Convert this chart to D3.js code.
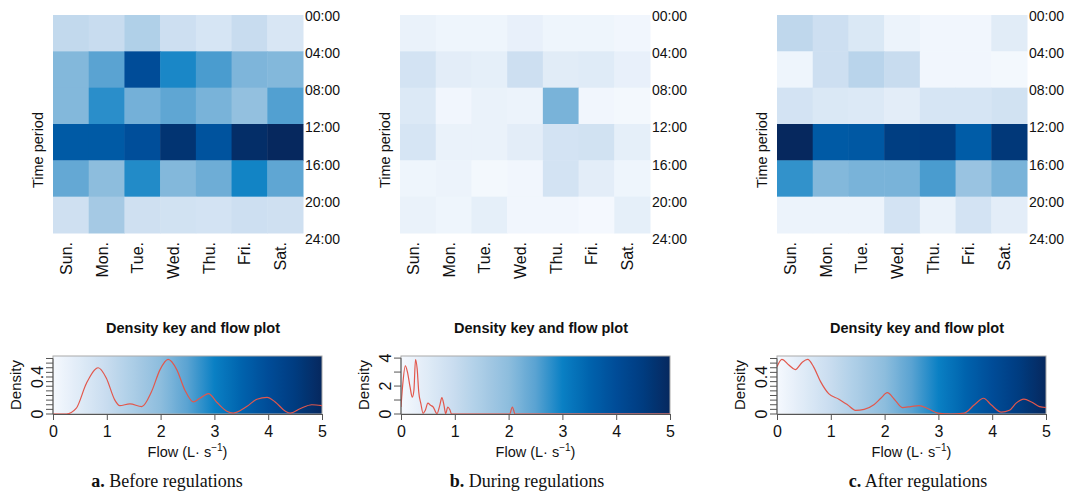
<!DOCTYPE html>
<html>
<head>
<meta charset="utf-8">
<script src="https://cdn.jsdelivr.net/npm/d3@7"></script>
<style>
  body { margin: 0; background: #fff; }
  text { font-family: "Liberation Sans", Arial, sans-serif; fill: #111; }
  .cap { font-family: "Liberation Serif", "Times New Roman", serif; }
</style>
</head>
<body>
<div id="app"></div>
<script>
// ---- data ----
const days = ['Sun.', 'Mon.', 'Tue.', 'Wed.', 'Thu.', 'Fri.', 'Sat.'];
const times = ['00:00', '04:00', '08:00', '12:00', '16:00', '20:00', '24:00'];
const flowTicks = [0, 1, 2, 3, 4, 5];

// mean flow per 4-hour block (rows) and weekday (cols), L/s
const heatBefore = [
    [1.1, 1.0, 1.4, 0.9, 0.7, 1.0, 0.65],
    [2.1, 2.5, 4.0, 2.9, 2.6, 2.15, 2.1],
    [2.1, 2.8, 2.25, 2.45, 2.2, 1.9, 2.55],
    [3.7, 3.7, 3.95, 4.7, 3.85, 4.85, 5.0],
    [2.4, 2.0, 2.85, 2.1, 2.3, 2.95, 2.45],
    [0.85, 1.6, 0.85, 0.8, 0.75, 0.9, 0.85]
];
const heatDuring = [
    [0.25, 0.15, 0.15, 0.3, 0.15, 0.15, 0.1],
    [0.75, 0.4, 0.35, 0.9, 0.45, 0.5, 0.3],
    [0.55, 0.1, 0.25, 0.2, 2.2, 0.1, 0.05],
    [0.7, 0.25, 0.25, 0.4, 0.75, 0.8, 0.35],
    [0.15, 0.2, 0.05, 0.1, 0.75, 0.4, 0.15],
    [0.25, 0.15, 0.35, 0.1, 0.1, 0.02, 0.35]
];
const heatAfter = [
    [1.15, 0.9, 0.6, 0.2, 0.1, 0.1, 0.45],
    [0.15, 0.9, 1.25, 1.0, 0.1, 0.1, 0.05],
    [0.75, 0.6, 0.55, 0.4, 0.7, 0.7, 0.8],
    [5.0, 3.7, 3.75, 4.45, 4.5, 3.65, 4.6],
    [2.75, 2.1, 2.2, 2.2, 2.6, 1.8, 2.2],
    [0.2, 0.2, 0.2, 0.75, 0.25, 0.75, 0.4]
];

// density of flow, [flow, density]
const densBefore = [
    [0, 0], [0.25, 0], [0.43, 0.06], [0.62, 0.33], [0.84, 0.5], [0.99, 0.39], [1.15, 0.15],
    [1.24, 0.09], [1.43, 0.11], [1.65, 0.08], [1.83, 0.24], [1.99, 0.48], [2.14, 0.59],
    [2.3, 0.48], [2.45, 0.26], [2.61, 0.13], [2.73, 0.17], [2.89, 0.22], [3.04, 0.13],
    [3.23, 0.03], [3.35, 0.01], [3.6, 0.08], [3.79, 0.16], [3.98, 0.18], [4.13, 0.13],
    [4.32, 0.03], [4.41, 0.01], [4.6, 0.06], [4.81, 0.1], [5, 0.09]
];
const densDuring = [
    [0, 0.5], [0.03, 2.0], [0.08, 3.45], [0.12, 3.0], [0.17, 1.9], [0.21, 1.2], [0.24, 1.7],
    [0.27, 3.9], [0.3, 3.25], [0.33, 1.57], [0.37, 0.73], [0.41, 0.05], [0.45, 0.25],
    [0.5, 0.78], [0.55, 0.62], [0.6, 0.5], [0.65, 0.1], [0.67, 0.03], [0.72, 0.6],
    [0.76, 1.17], [0.8, 0.6], [0.83, 0.03], [0.87, 0.5], [0.91, 0.28], [0.94, 0],
    [2.02, 0], [2.07, 0.5], [2.12, 0], [5, 0]
];
const densAfter = [
    [0, 0.51], [0.09, 0.59], [0.22, 0.53], [0.34, 0.48], [0.47, 0.56], [0.57, 0.59],
    [0.68, 0.51], [0.81, 0.35], [0.96, 0.22], [1.15, 0.16], [1.31, 0.1], [1.46, 0.04],
    [1.62, 0.05], [1.8, 0.1], [1.93, 0.17], [2.05, 0.23], [2.18, 0.16], [2.33, 0.07],
    [2.49, 0.08], [2.64, 0.09], [2.8, 0.06], [2.99, 0.01], [3.23, 0], [3.48, 0.01],
    [3.67, 0.1], [3.84, 0.17], [3.98, 0.1], [4.17, 0.02], [4.32, 0.04], [4.45, 0.12],
    [4.59, 0.16], [4.73, 0.13], [4.88, 0.08], [5, 0.07]
];

// ---- setup ----
const width = 1068, height = 494;
const svg = d3.select('#app').append('svg').attr('width', width).attr('height', height);
const defs = svg.append('defs');

const color = d3.scaleLinear()
    .domain([0, 1, 2, 2.5, 3, 3.5, 4, 4.5, 5])
    .range(['#f5f9fe', '#c8dcef', '#8dbddd', '#5aa3d2', '#0a80c4', '#0063ad', '#004c98', '#003c80', '#06285e'])
    .clamp(true);

const panels = [
    { x0: 53, heat: heatBefore, dens: densBefore, ymax: 0.627, yticks: d3.range(0, 0.601, 0.05), ylabels: [0, 0.4], tag: 'a.', cap: ' Before regulations', capX: 167 },
    { x0: 401, hx0: 400, heat: heatDuring, dens: densDuring, ymax: 4.15, yticks: [0, 1, 2, 3, 4], ylabels: [0, 2, 4], tag: 'b.', cap: ' During regulations', capX: 527 },
    { x0: 777, heat: heatAfter, dens: densAfter, ymax: 0.627, yticks: d3.range(0, 0.601, 0.05), ylabels: [0, 0.4], tag: 'c.', cap: ' After regulations', capX: 918 }
];

// gradient for density key
const grad = defs.append('linearGradient').attr('id', 'key').attr('x1', '0%').attr('x2', '100%');
d3.range(0, 5.01, 0.1).forEach(v => {
    grad.append('stop').attr('offset', (v / 5 * 100) + '%').attr('stop-color', color(v));
});

panels.forEach((p, pi) => {
    const hx0 = p.hx0 || p.x0;
    const g = svg.append('g');

    // heatmap
    const x = d3.scaleBand().domain(days).range([hx0, hx0 + 250]);
    const y = d3.scaleBand().domain(d3.range(6)).range([15, 233]);
    const cells = [];
    p.heat.forEach((row, r) => row.forEach((v, c) => cells.push({ r, c, v })));
    g.selectAll('rect.cell').data(cells).enter().append('rect')
        .attr('class', 'cell')
        .attr('x', d => x(days[d.c]))
        .attr('y', d => y(d.r))
        .attr('width', x.bandwidth() + 0.5)
        .attr('height', y.bandwidth() + 0.5)
        .attr('fill', d => color(d.v));

    const ty = d3.scalePoint().domain(times).range([16, 239]);
    g.selectAll('text.time').data(times).enter().append('text')
        .attr('x', hx0 + 252)
        .attr('y', d => ty(d))
        .attr('dy', '0.35em')
        .style('font-size', '14px')
        .text(d => d);

    g.selectAll('text.day').data(days).enter().append('text')
        .attr('transform', d => `translate(${x(d) + x.bandwidth() / 2 + 1},242) rotate(-90)`)
        .attr('text-anchor', 'end')
        .style('font-size', '16px')
        .text(d => d);

    g.append('text')
        .attr('transform', `translate(${hx0 - 10},150) rotate(-90)`)
        .attr('text-anchor', 'middle')
        .style('font-size', '14.5px')
        .text('Time period');

    // density key
    const kx = d3.scaleLinear().domain([0, 5]).range([p.x0, p.x0 + 269]);
    const ky = d3.scaleLinear().domain([0, p.ymax]).range([414, 356]);

    g.append('text')
        .attr('x', p.x0 + 140).attr('y', 333)
        .attr('text-anchor', 'middle')
        .style('font-size', '14.5px').style('font-weight', 'bold')
        .text('Density key and flow plot');

    g.append('rect')
        .attr('x', p.x0).attr('y', 356).attr('width', 269).attr('height', 58)
        .attr('fill', 'url(#key)')
        .attr('stroke', '#aaa').attr('stroke-width', 1);

    const clipId = 'clip' + pi;
    defs.append('clipPath').attr('id', clipId).append('rect')
        .attr('x', p.x0).attr('y', 354).attr('width', 269).attr('height', 61);

    const line = d3.line()
        .x(d => kx(d[0]))
        .y(d => ky(d[1]))
        .curve(d3.curveMonotoneX);
    g.append('path')
        .datum(p.dens)
        .attr('d', line)
        .attr('fill', 'none')
        .attr('stroke', '#e2574c')
        .attr('stroke-width', 1.2)
        .attr('clip-path', `url(#${clipId})`);

    // x axis
    const xa = g.append('g').attr('transform', 'translate(0,414)')
        .call(d3.axisBottom(kx).tickValues(flowTicks).tickSize(6).tickPadding(6).tickFormat(d3.format('d')));
    xa.select('.domain').attr('stroke', '#555');
    xa.selectAll('.tick line').attr('stroke', '#555');
    xa.selectAll('.tick text').style('font-size', '16px').style('font-family', '"Liberation Sans", Arial, sans-serif').attr('fill', '#111');

    const xl = g.append('text')
        .attr('x', p.x0 + 134.5).attr('y', 457)
        .attr('text-anchor', 'middle')
        .style('font-size', '14.5px');
    xl.append('tspan').text('Flow (L\u00b7 s');
    xl.append('tspan').attr('dy', -6).style('font-size', '10px').text('\u22121');
    xl.append('tspan').attr('dy', 6).text(')');

    // y axis
    const ya = g.append('g');
    ya.append('line')
        .attr('x1', p.x0).attr('x2', p.x0)
        .attr('y1', ky(0)).attr('y2', ky(d3.max(p.yticks)))
        .attr('stroke', '#555');
    ya.selectAll('line.tk').data(p.yticks).enter().append('line')
        .attr('class', 'tk')
        .attr('x1', p.x0 - 7).attr('x2', p.x0)
        .attr('y1', d => ky(d)).attr('y2', d => ky(d))
        .attr('stroke', '#555');
    ya.selectAll('text').data(p.ylabels).enter().append('text')
        .attr('transform', d => `translate(${p.x0 - 10},${ky(d)}) rotate(-90)`)
        .attr('text-anchor', 'middle')
        .style('font-size', '16px')
        .text(d => d);

    g.append('text')
        .attr('transform', `translate(${p.x0 - 32},385) rotate(-90)`)
        .attr('text-anchor', 'middle')
        .style('font-size', '15px')
        .text('Density');

    // caption
    const cap = g.append('text')
        .attr('class', 'cap')
        .attr('x', p.capX).attr('y', 487)
        .attr('text-anchor', 'middle')
        .style('font-size', '18px');
    cap.append('tspan').style('font-weight', 'bold').text(p.tag);
    cap.append('tspan').text(p.cap);
});
</script>
</body>
</html>
